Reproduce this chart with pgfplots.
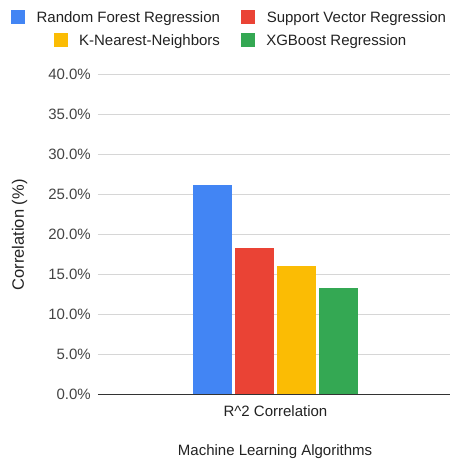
\documentclass[border=0pt]{standalone}
\usepackage{pgfplots}
\pgfplotsset{compat=1.18}
\usepackage{fontspec}
\setmainfont{Liberation Sans}
\definecolor{rfblue}{HTML}{4285F4}
\definecolor{svred}{HTML}{EA4335}
\definecolor{knnyellow}{HTML}{FBBC04}
\definecolor{xgbgreen}{HTML}{34A853}
\definecolor{gridgray}{HTML}{D6D6D6}
\definecolor{basegray}{HTML}{333333}
\definecolor{ticktext}{HTML}{444444}
\definecolor{labeltext}{HTML}{222222}
\newcommand{\sq}[1]{\textcolor{#1}{\rule[-1.5pt]{14pt}{14pt}}}
\begin{document}
\begin{tikzpicture}[font=\fontsize{15}{18}\selectfont]
\useasboundingbox (0,0) rectangle (450pt,461pt);
\begin{axis}[
  at={(98pt,66.7pt)}, anchor=south west,
  scale only axis, width=352pt, height=320pt,
  xmin=-1.775, xmax=1.745,
  ymin=0, ymax=40,
  ytick={0,5,...,40},
  xtick={0}, xticklabels={R\textasciicircum 2 Correlation},
  major tick length=0pt,
  axis line style={draw=none},
  ymajorgrids, grid style={draw=gridgray, line width=1pt},
  /pgf/number format/assume math mode=true,
  yticklabel={\pgfmathprintnumber[fixed,fixed zerofill,precision=1]{\tick}\%},
  yticklabel style={anchor=east, inner sep=0pt, xshift=-7pt, text=ticktext, font=\fontsize{15}{18}\selectfont},
  xticklabel style={anchor=north, inner sep=0pt, yshift=-10.8pt, text=labeltext, font=\fontsize{15}{18}\selectfont},
  ylabel={Correlation (\%)},
  ylabel style={at={(axis description cs:-0.223,0.498)}, anchor=center, text=labeltext, font=\fontsize{16.5}{19}\selectfont},
  xlabel={Machine Learning Algorithms},
  xlabel style={at={(axis description cs:0.503,-0.179)}, anchor=center, text=labeltext, font=\fontsize{15}{18}\selectfont},
  ybar=3pt, bar width=39pt,
  legend columns=2,
  legend image code/.code={},
  legend cell align=left,
  legend style={at={(axis description cs:-0.252,1.2009)}, anchor=north west,
    draw=none, fill=none, inner sep=0pt, outer sep=0pt,
    column sep=0pt, row sep=7pt,
    nodes={inner sep=0pt, outer sep=0pt, text height=12.5pt, text depth=3.5pt, text=labeltext},
    font=\fontsize{15}{18}\selectfont},
]
\addplot[draw=none, fill=rfblue] coordinates {(0,26.2)};
\addlegendentry{\makebox[210.7pt][r]{\sq{rfblue}\hspace{12pt}Random Forest Regression}}
\addplot[draw=none, fill=svred] coordinates {(0,18.3)};
\addlegendentry{\makebox[230pt][l]{\hspace{21.3pt}\sq{svred}\hspace{11.5pt}Support Vector Regression}}
\addplot[draw=none, fill=knnyellow] coordinates {(0,16.0)};
\addlegendentry{\makebox[210.7pt][r]{\sq{knnyellow}\hspace{11pt}K-Nearest-Neighbors}}
\addplot[draw=none, fill=xgbgreen] coordinates {(0,13.3)};
\addlegendentry{\makebox[230pt][l]{\hspace{21.3pt}\sq{xgbgreen}\hspace{11pt}XGBoost Regression}}
\draw[basegray, line width=1.3pt] (rel axis cs:0,0) -- (rel axis cs:1,0);
\end{axis}
\end{tikzpicture}
\end{document}
